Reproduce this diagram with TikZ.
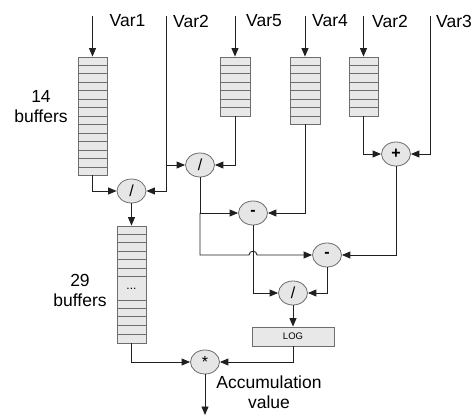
\documentclass[tikz,border=0pt]{standalone}
\usepackage{fontspec}
\setmainfont{Liberation Sans}
\usetikzlibrary{arrows.meta,shapes.geometric,calc}
\definecolor{bufgray}{HTML}{E8E8E8}
\definecolor{opgray}{HTML}{E6E6E6}
\definecolor{edgegray}{HTML}{6E6E6E}
\definecolor{linecol}{HTML}{202020}
\tikzset{
  buf/.style={draw=edgegray, fill=bufgray, line width=0.9pt, inner sep=0pt, minimum width=29pt},
  op/.style={ellipse, draw=edgegray, fill=opgray, line width=0.8pt, inner sep=0pt, minimum width=29pt, minimum height=24pt, font=\fontsize{16}{16}\selectfont},
  rowline/.style={draw=edgegray, line width=0.9pt},
  conn/.style={draw=linecol, line width=0.9pt},
  arr/.style={conn, -{Triangle[length=8.5pt,width=7pt]}},
  lbl/.style={font=\fontsize{17.5}{20}\selectfont, inner sep=0pt, text=black},
  loglbl/.style={draw=edgegray, fill=bufgray, line width=0.8pt, minimum width=82pt, minimum height=19pt, inner sep=0pt, font=\fontsize{9.5}{9.5}\selectfont}
}
\begin{document}
\begin{tikzpicture}[x=1pt,y=-1pt]
\useasboundingbox (0,0) rectangle (475,416);
% buffers
\node[buf, minimum height=118pt] (b14) at (92.5,116) {};
\node[buf, minimum width=30pt, minimum height=59pt] (b5) at (235,86.5) {};
\node[buf, minimum width=30pt, minimum height=67pt] (b4) at (305,90.5) {};
\node[buf, minimum height=59pt] (b2) at (363.5,86.5) {};
\node[buf, minimum height=117pt] (b29) at (131.5,284.5) {};
\foreach \i in {1,...,13}
  \draw[rowline] ($(b14.north west)!\i/14!(b14.south west)$) -- ($(b14.north east)!\i/14!(b14.south east)$);
\foreach \i in {1,...,6}
  \draw[rowline] ($(b5.north west)!\i/7!(b5.south west)$) -- ($(b5.north east)!\i/7!(b5.south east)$);
\foreach \i in {1,...,7}
  \draw[rowline] ($(b4.north west)!\i/8!(b4.south west)$) -- ($(b4.north east)!\i/8!(b4.south east)$);
\foreach \i in {1,...,6}
  \draw[rowline] ($(b2.north west)!\i/7!(b2.south west)$) -- ($(b2.north east)!\i/7!(b2.south east)$);
\foreach \y in {234.3,242.7,251,259.3,268,276.7,300,308.3,316.7,325.7,334}
  \draw[rowline] (b29.west |- 0,\y) -- (b29.east |- 0,\y);
\node[inner sep=0pt, font=\fontsize{12}{12}\selectfont] (dots) at (131.5,289) {...};
% operators
\node[op] (div1) at (131.5,191) {/};
\node[op] (div2) at (200,165) {/};
\node[op] (plus) at (396,154) {\bfseries +};
\node[op] (minus1) at (253,213) {\bfseries -};
\node[op] (minus2) at (327,255) {\bfseries -};
\node[op] (div3) at (293,293) {/};
\node[loglbl] (log) at (293,336.5) {LOG};
\node[op] (star) at (205,362) {*};
% labels
\node[lbl] (l1) at (127.5,21) {Var1};
\node[lbl] (l2) at (191,21) {Var2};
\node[lbl] (l5) at (264,21) {Var5};
\node[lbl] (l4) at (330,21) {Var4};
\node[lbl] (l2b) at (390,21) {Var2};
\node[lbl] (l3) at (454,21) {Var3};
\node[lbl, align=center] (n14) at (41,107) {14\\buffers};
\node[lbl, align=center] (n29) at (80,290) {29\\buffers};
\node[lbl, align=center] (acc) at (269,392) {Accumulation\\value};
% coordinates
\coordinate (v1) at (92.5,16);
\coordinate (v2) at (166,16);
\coordinate (v5) at (235,16);
\coordinate (v4) at (305,16);
\coordinate (v2b) at (363.5,16);
\coordinate (v3) at (430,16);
\coordinate (out) at (205,415);
% connectors
\draw[arr] (v1) -- (b14.north);
\draw[arr] (v5) -- (b5.north);
\draw[arr] (v4) -- (b4.north);
\draw[arr] (v2b) -- (b2.north);
\draw[arr] (b14.south) |- (div1.west);
\draw[arr] (v2) |- (div1.east);
\draw[arr] (v2 |- div2) -- (div2.west);
\draw[arr] (b5.south) |- (div2.east);
\draw[arr] (b4.south) |- (minus1.east);
\draw[arr] (b2.south) |- (plus.west);
\draw[arr] (v3) |- (plus.east);
\draw[arr] (plus.south) |- (minus2.east);
\draw[arr] (div2.south) |- (minus1.west);
\draw[arr] (div2.south |- minus1) -- (div2.south |- minus2) -- (249,255) .. controls (249,250) and (257,250) .. (257,255) -- (minus2.west);
\draw[arr] (minus1.south) |- (div3.west);
\draw[arr] (minus2.south) |- (div3.east);
\draw[arr] (div3.south) -- (log.north);
\draw[arr] (log.south) |- (star.east);
\draw[arr] (div1.south) -- (b29.north);
\draw[arr] (b29.south) |- (star.west);
\draw[arr] (star.south) -- (out);
\end{tikzpicture}
\end{document}
